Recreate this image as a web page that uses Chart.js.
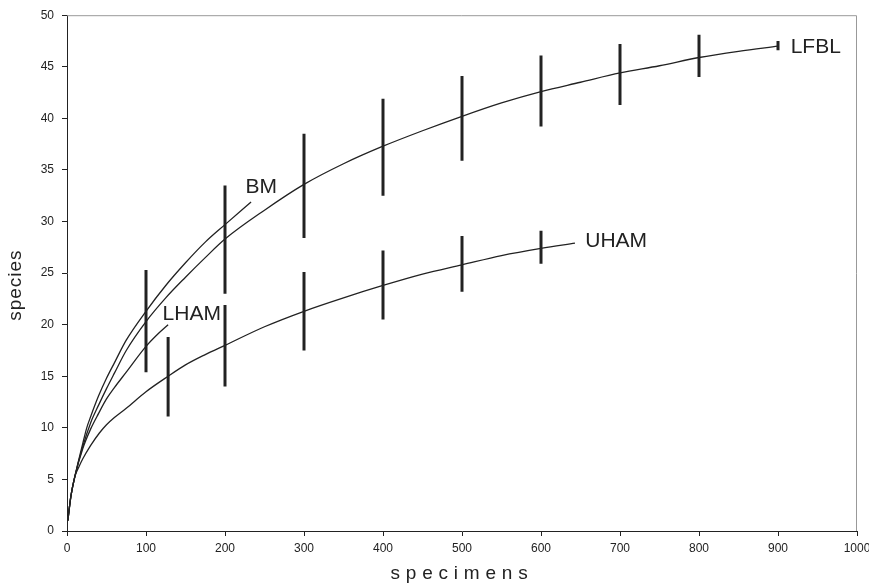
<!DOCTYPE html>
<html>
<head>
<meta charset="utf-8">
<script src="https://cdn.jsdelivr.net/npm/chart.js@4.4.0/dist/chart.umd.min.js"></script>
<style>
	html, body { margin: 0; padding: 0; background: #fff; }
	canvas { display: block; }
</style>
</head>
<body>
<canvas id="chart" width="869" height="583"></canvas>
<script>
// rarefaction curves (specimens -> species)
const lfblX = [1, 5, 10, 20, 30, 40, 50, 60, 75, 100, 125, 150, 175, 200, 250, 300, 350, 400, 450, 500, 550, 600, 650, 700, 750, 800, 850, 900];
const lfblY = [1, 3.4, 5.3, 8.2, 10.5, 12.2, 13.8, 15.3, 17.5, 20.3, 22.6, 24.6, 26.5, 28.3, 31.1, 33.6, 35.6, 37.3, 38.8, 40.2, 41.5, 42.6, 43.5, 44.4, 45.1, 45.9, 46.5, 47.0];

const bmX = [1, 5, 10, 20, 25, 30, 40, 50, 60, 75, 100, 125, 150, 175, 200, 233];
const bmY = [1, 3.4, 5.3, 8.5, 10.0, 11.1, 13.1, 14.8, 16.3, 18.5, 21.3, 23.8, 26.0, 28.0, 29.7, 31.9];

const lhamX = [1, 5, 10, 20, 30, 40, 50, 60, 75, 100, 115, 128];
const lhamY = [1, 3.4, 5.3, 8.0, 9.9, 11.4, 12.8, 13.9, 15.4, 17.9, 19.1, 20.0];

const uhamX = [1, 5, 10, 15, 20, 30, 41, 50, 60, 75, 100, 128, 150, 175, 200, 250, 300, 350, 400, 450, 500, 550, 600, 643];
const uhamY = [1, 3.4, 5.3, 6.2, 7.0, 8.3, 9.5, 10.3, 11.0, 11.9, 13.5, 15.0, 16.1, 17.1, 18.0, 19.8, 21.3, 22.6, 23.8, 24.9, 25.8, 26.7, 27.4, 27.9];

// error bars
const lfblBarX = [100, 200, 300, 400, 500, 600, 700, 800, 900];
const lfblBarLow = [15.4, 23.0, 28.4, 32.5, 35.9, 39.2, 41.3, 44.0, 46.6];
const lfblBarHigh = [25.3, 33.5, 38.5, 41.9, 44.1, 46.1, 47.2, 48.1, 47.5];

const uhamBarX = [128, 200, 300, 400, 500, 600];
const uhamBarLow = [11.1, 14.0, 17.5, 20.5, 23.2, 25.9];
const uhamBarHigh = [18.8, 21.9, 25.1, 27.2, 28.6, 29.1];

// curve labels
const labelText = ['LFBL', 'BM', 'LHAM', 'UHAM'];
const labelX = [916, 226, 121, 656];
const labelY = [46.9, 33.3, 21.0, 28.1];

const FONT = '"Liberation Sans", Arial, sans-serif';
const INK = '#222';

function toPoints(xs, ys){
	return xs.map((x, i) => ({x: x, y: ys[i]}));
}

function toBars(xs, lows, highs){
	let pts = [];
	xs.forEach((x, i) => {
		pts.push({x: x, y: lows[i]});
		pts.push({x: x, y: highs[i]});
		pts.push({x: x, y: null});
	});
	return pts;
}

function curve(xs, ys){
	return {
		data: toPoints(xs, ys),
		borderColor: INK,
		borderWidth: 1.3,
		pointRadius: 0,
		cubicInterpolationMode: 'monotone',
		fill: false
	};
}

function bars(xs, lows, highs){
	return {
		data: toBars(xs, lows, highs),
		borderColor: INK,
		borderWidth: 3,
		borderCapStyle: 'butt',
		pointRadius: 0,
		spanGaps: false,
		tension: 0,
		fill: false
	};
}

const frame = {
	id: 'frame',
	beforeDraw(chart){
		// spaced axis titles
		let xs = chart.scales.x, ys = chart.scales.y;
		if(!xs._spaced){
			let orig = xs.drawTitle;
			xs.drawTitle = function(){
				let c = this.ctx;
				c.save();
				c.letterSpacing = '5.8px';
				orig.call(this);
				c.restore();
			};
			xs._spaced = true;
		}
		if(!ys._spaced){
			let orig = ys.drawTitle;
			ys.drawTitle = function(){
				let c = this.ctx;
				c.save();
				c.translate(0, 12);
				c.letterSpacing = '1px';
				orig.call(this);
				c.restore();
			};
			ys._spaced = true;
		}
	},
	afterDraw(chart){
		let {ctx, chartArea: a} = chart;
		ctx.save();
		ctx.strokeStyle = '#999';
		ctx.lineWidth = 1;
		ctx.beginPath();
		ctx.moveTo(a.left, a.top + 0.5);
		ctx.lineTo(a.right - 0.5, a.top + 0.5);
		ctx.lineTo(a.right - 0.5, a.bottom);
		ctx.stroke();

		ctx.fillStyle = INK;
		ctx.font = '21px ' + FONT;
		ctx.textAlign = 'left';
		ctx.textBaseline = 'middle';
		labelText.forEach((t, i) => {
			ctx.fillText(t, chart.scales.x.getPixelForValue(labelX[i]), chart.scales.y.getPixelForValue(labelY[i]));
		});
		ctx.restore();
	}
};

new Chart(document.getElementById('chart'), {
	type: 'line',
	data: {
		datasets: [
			curve(lfblX, lfblY),
			curve(bmX, bmY),
			curve(lhamX, lhamY),
			curve(uhamX, uhamY),
			bars(lfblBarX, lfblBarLow, lfblBarHigh),
			bars(uhamBarX, uhamBarLow, uhamBarHigh)
		]
	},
	plugins: [frame],
	options: {
		responsive: false,
		animation: false,
		devicePixelRatio: 1,
		layout: { padding: { top: 15, right: 12, left: 0, bottom: 0 } },
		plugins: {
			legend: { display: false },
			tooltip: { enabled: false }
		},
		scales: {
			x: {
				type: 'linear',
				min: 0,
				max: 1000,
				ticks: {
					stepSize: 100,
					color: INK,
					padding: 5,
					font: { family: FONT, size: 12 },
					callback: v => String(v)
				},
				grid: { drawOnChartArea: false, drawTicks: true, tickLength: 5, color: INK },
				border: { display: true, color: INK, width: 1 },
				title: {
					display: true,
					text: 'specimens',
					color: INK,
					font: { family: FONT, size: 19, lineHeight: 1 },
					padding: { top: 0, bottom: 0 }
				},
				afterFit(scale){
					scale.height = 52;
					scale.paddingRight = 12;
				}
			},
			y: {
				min: 0,
				max: 50,
				ticks: { stepSize: 5, color: INK, padding: 8, font: { family: FONT, size: 12 } },
				grid: { drawOnChartArea: false, drawTicks: true, tickLength: 5, color: INK },
				border: { display: true, color: INK, width: 1 },
				title: {
					display: true,
					text: 'species',
					color: INK,
					font: { family: FONT, size: 19, lineHeight: 1 },
					padding: { top: 6, bottom: 0 }
				},
				afterFit(scale){ scale.width = 67; }
			}
		}
	}
});
</script>
</body>
</html>
